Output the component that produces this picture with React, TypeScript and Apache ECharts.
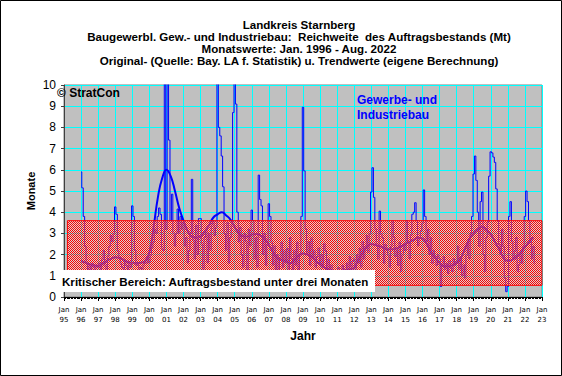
import React, { useEffect, useRef } from "react";
import * as echarts from "echarts";

// Monthly original values (Monate), Jan 1996 .. Aug 2022
const startYear = 1996;
const monthlyValues: number[] = [
  // 1996
  5.9, 5.15, 3.8, 2.4, 1.6, 1.3, 1.5, 1.2, 1.6, 1.4, 1.3, 1.5,
  // 1997
  1.4, 1.6, 1.3, 1.8, 2.2, 1.5, 1.2, 1.9, 2.4, 2.9, 2.6, 3.0,
  // 1998
  4.25, 3.9, 2.2, 1.8, 1.6, 1.4, 1.3, 1.7, 1.5, 1.2, 1.6, 1.4,
  // 1999
  4.3, 3.8, 2.2, 1.5, 1.6, 1.3, 1.4, 1.2, 1.5, 1.7, 1.6, 1.9,
  // 2000
  1.6, 2.0, 2.3, 2.6, 3.2, 3.0, 3.8, 4.2, 3.9, 2.3, 2.2, 11.0,
  // 2001
  3.2, 12.0, 7.4, 3.6, 4.85, 3.0, 2.4, 3.0, 4.15, 3.0, 3.8, 3.2,
  // 2002
  3.5, 2.4, 2.8, 1.6, 2.2, 3.0, 5.55, 2.7, 1.8, 3.4, 2.0, 3.7,
  // 2003
  3.7, 2.5, 1.3, 2.8, 3.2, 1.6, 3.0, 2.2, 3.4, 3.6, 2.9, 3.3,
  // 2004
  10.5, 8.0, 7.6, 6.65, 5.2, 3.0, 2.2, 3.5, 1.6, 2.8, 3.4, 8.7,
  // 2005
  10.5, 9.1, 4.0, 2.6, 3.3, 2.0, 1.4, 3.0, 2.6, 1.2, 3.2, 2.4,
  // 2006
  4.1, 3.6, 1.8, 2.8, 1.4, 5.75, 4.6, 4.3, 2.0, 3.0, 1.5, 2.5,
  // 2007
  4.4, 3.8, 2.6, 1.5, 2.4, 1.2, 2.0, 1.0, 1.8, 2.6, 1.4, 2.2,
  // 2008
  1.6, 2.3, 1.2, 2.8, 1.8, 1.0, 2.2, 1.5, 2.6, 1.3, 2.0, 3.8,
  // 2009
  8.95, 5.95, 3.2, 2.0, 2.6, 1.5, 2.8, 1.8, 2.2, 1.4, 1.9, 2.3,
  // 2010
  1.6, 2.0, 1.4, 2.5, 2.2, 1.2, 1.8, 1.0, 1.5, 1.3, 0.9, 1.2,
  // 2011
  1.0, 1.4, 0.8, 1.2, 1.5, 1.0, 1.3, 1.6, 1.1, 1.9, 1.4, 1.7,
  // 2012
  1.8, 1.3, 2.0, 1.6, 2.3, 1.4, 2.6, 1.8, 2.4, 2.9, 2.1, 3.0,
  // 2013
  4.95, 6.1, 4.7, 3.2, 2.4, 1.8, 4.05, 3.0, 2.8, 1.6, 2.5, 2.2,
  // 2014
  2.0, 1.4, 2.4, 3.6, 2.8, 1.9, 2.2, 1.5, 2.6, 1.2, 2.0, 2.5,
  // 2015
  2.2, 3.6, 2.6, 1.8, 2.9, 3.9, 4.0, 4.45, 3.6, 2.4, 2.8, 3.1,
  // 2016
  3.5, 5.05, 3.8, 2.6, 3.2, 2.0, 2.8, 1.6, 2.2, 1.9, 1.5, 2.0,
  // 2017
  1.8, 0.5, 1.5, 1.9, 1.3, 1.6, 1.1, 1.7, 1.4, 1.2, 1.8, 1.5,
  // 2018
  1.7, 2.4, 1.3, 1.9, 1.0, 1.5, 0.9, 2.0, 2.6, 1.8, 3.0, 3.8,
  // 2019
  5.8, 6.65, 5.5, 4.0, 2.4, 4.5, 4.95, 2.0, 1.2, 2.8, 3.5, 5.7,
  // 2020
  6.85, 6.8, 6.6, 6.35, 5.1, 3.6, 2.5, 2.0, 3.2, 2.4, 0.9, 0.25,
  // 2021
  0.5, 3.8, 4.5, 2.6, 1.8, 2.2, 2.8, 1.2, 1.5, 2.0, 1.6, 2.4,
  // 2022
  3.8, 5.0, 4.5, 3.6, 2.6, 1.8, 2.4, 1.6,
];

// Trend values, quarterly (Jan, Apr, Jul, Oct), Jan 1996 .. Jul 2022
const trendValues: number[] = [
  1.70, 1.62, 1.55, 1.50, // 1996
  1.47, 1.55, 1.70, 1.80, // 1997
  1.88, 1.85, 1.75, 1.65, // 1998
  1.62, 1.60, 1.62, 1.70, // 1999
  2.10, 3.30, 4.70, 5.60, // 2000
  6.00, 5.70, 5.00, 4.20, // 2001
  3.60, 3.10, 2.85, 2.80, // 2002
  2.85, 3.10, 3.40, 3.75, // 2003
  3.90, 4.00, 3.85, 3.65, // 2004
  3.30, 3.00, 2.85, 2.85, // 2005
  2.95, 2.97, 2.90, 2.75, // 2006
  2.45, 2.10, 1.85, 1.75, // 2007
  1.70, 1.60, 1.75, 1.95, // 2008
  2.05, 2.00, 1.90, 1.70, // 2009
  1.55, 1.40, 1.30, 1.22, // 2010
  1.20, 1.22, 1.28, 1.30, // 2011
  1.40, 1.75, 2.10, 2.35, // 2012
  2.50, 2.45, 2.40, 2.30, // 2013
  2.25, 2.25, 2.30, 2.40, // 2014
  2.50, 2.60, 2.70, 2.80, // 2015
  2.75, 2.50, 2.10, 1.85, // 2016
  1.60, 1.45, 1.45, 1.50, // 2017
  1.60, 1.85, 2.30, 2.75, // 2018
  3.00, 3.20, 3.30, 3.15, // 2019
  2.95, 2.60, 2.25, 1.85, // 2020
  1.70, 1.75, 1.90, 2.10, // 2021
  2.35, 2.60, 2.83,       // 2022
];

const axisMinYear = 1995;
const axisMaxYear = 2023;
const criticalLow = 0.55;
const criticalHigh = 3.6;
const criticalStartYear = 1995.2;

const titleLines = [
  "Landkreis Starnberg",
  "Baugewerbl. Gew.- und Industriebau:  Reichweite  des Auftragsbestands (Mt)",
  "Monatswerte: Jan. 1996 - Aug. 2022",
  "Original- (Quelle: Bay. LA f. Statistik) u. Trendwerte (eigene Berechnung)",
];

export default function App() {
  const ref = useRef<HTMLDivElement>(null);
  useEffect(() => {
    if (!ref.current) return;
    const chart = echarts.init(ref.current, undefined, { renderer: "svg" });

    const canvas = document.createElement("canvas");
    canvas.width = 2;
    canvas.height = 2;
    const ctx = canvas.getContext("2d")!;
    ctx.fillStyle = "rgba(255,255,255,0.35)";
    ctx.fillRect(1, 0, 1, 1);
    ctx.fillRect(0, 1, 1, 1);
    ctx.fillStyle = "#ff0000";
    ctx.fillRect(0, 0, 1, 1);
    ctx.fillRect(1, 1, 1, 1);

    const origData = monthlyValues.map((v, i) => [startYear + i / 12, v]);
    const trendData = trendValues.map((v, i) => [startYear + i / 4, v]);
    const font = "Liberation Sans, Arial, sans-serif";

    chart.setOption({
      animation: false,
      backgroundColor: "#ffffff",
      textStyle: { fontFamily: font },
      grid: {
        left: 64,
        right: 20,
        top: 85,
        bottom: 79,
        show: true,
        backgroundColor: "#c0c0c0",
        borderColor: "#808080",
        borderWidth: 1,
      },
      xAxis: {
        type: "value",
        min: axisMinYear,
        max: axisMaxYear,
        interval: 1,
        name: "Jahr",
        nameLocation: "middle",
        nameGap: 33,
        nameMoveOverlap: false,
        nameTextStyle: { fontWeight: "bold", fontSize: 12, color: "#000", fontFamily: font },
        axisLine: { show: true, lineStyle: { color: "#000", width: 1 } },
        axisTick: { show: true, length: 4, lineStyle: { color: "#000" } },
        minorTick: { show: true, splitNumber: 12, length: 2, lineStyle: { color: "#000" } },
        splitLine: { show: true, lineStyle: { color: "#00ffff", width: 1 } },
        axisLabel: {
          formatter: (v: number) => "Jan\n" + String(v).slice(2),
          fontSize: 7,
          lineHeight: 10,
          margin: 8,
          color: "#000",
          fontFamily: "DejaVu Sans",
        },
      },
      yAxis: {
        type: "value",
        min: 0,
        max: 10,
        interval: 1,
        name: "Monate",
        nameLocation: "middle",
        nameRotate: 90,
        nameGap: 28,
        nameMoveOverlap: false,
        nameTextStyle: { fontWeight: "bold", fontSize: 11, color: "#000", fontFamily: font },
        axisLine: { show: true, lineStyle: { color: "#404040" } },
        axisTick: { show: true, length: 3, lineStyle: { color: "#404040" } },
        splitLine: { show: true, lineStyle: { color: "#00ffff", width: 1 } },
        axisLabel: { fontSize: 12, color: "#000", margin: 8, fontFamily: font },
      },
      series: [
        {
          type: "line",
          name: "Original",
          data: origData,
          step: "middle",
          showSymbol: false,
          lineStyle: { color: "#0000ff", width: 1 },
          z: 2,
        },
        {
          type: "line",
          name: "Trend",
          data: trendData,
          smooth: true,
          showSymbol: false,
          lineStyle: { color: "#0000ff", width: 2 },
          z: 3,
        },
        {
          type: "line",
          name: "Kritisch",
          data: [],
          z: 10,
          markArea: {
            silent: true,
            z: 10,
            itemStyle: {
              color: { image: canvas, repeat: "repeat" } as any,
              borderColor: "#ff0000",
              borderWidth: 1,
            },
            data: [
              [
                { xAxis: criticalStartYear, yAxis: criticalHigh },
                { xAxis: axisMaxYear, yAxis: criticalLow },
              ],
            ],
          },
        },
      ],
      graphic: [
        ...titleLines.map((t, i) => ({
          type: "text",
          x: 299,
          y: 24 + i * 12,
          style: {
            text: t,
            fill: "#000",
            font: `bold 11.6px ${font}`,
            textAlign: "center",
            textVerticalAlign: "middle",
          },
        })),
        {
          type: "text",
          x: 57,
          y: 93,
          z: 100,
          style: {
            text: "© StratCon",
            fill: "#000",
            font: `bold 12px ${font}`,
            textVerticalAlign: "middle",
          },
        },
        {
          type: "text",
          x: 357,
          y: 100,
          z: 100,
          style: {
            text: "Gewerbe- und",
            fill: "#0000ff",
            font: `bold 12px ${font}`,
            textVerticalAlign: "middle",
          },
        },
        {
          type: "text",
          x: 357,
          y: 115,
          z: 100,
          style: {
            text: "Industriebau",
            fill: "#0000ff",
            font: `bold 12px ${font}`,
            textVerticalAlign: "middle",
          },
        },
        {
          type: "rect",
          z: 100,
          shape: { x: 60, y: 270, width: 315, height: 22 },
          style: { fill: "#ffffff" },
        },
        {
          type: "text",
          x: 62,
          y: 281,
          z: 101,
          style: {
            text: "Kritischer Bereich: Auftragsbestand unter drei Monaten",
            fill: "#000",
            font: `bold 11.6px ${font}`,
            textVerticalAlign: "middle",
          },
        },
        {
          type: "rect",
          z: 100,
          shape: { x: 0.5, y: 0.5, width: 561, height: 375 },
          style: { fill: "none", stroke: "#000", lineWidth: 1 },
        },
      ],
    });
    return () => chart.dispose();
  }, []);
  return (
    <div
      ref={ref}
      style={{ position: "fixed", left: 0, top: 0, width: 562, height: 376 }}
    />
  );
}
